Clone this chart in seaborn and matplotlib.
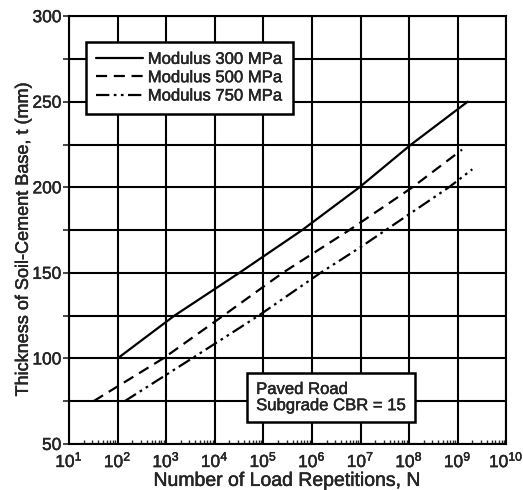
import numpy as np
import pandas as pd
import seaborn as sns
import matplotlib.pyplot as plt
import matplotlib.patheffects as pe
from matplotlib.text import Text
from matplotlib.ticker import LogLocator, NullFormatter, MultipleLocator

# values
n_300 = [1e2, 1.48e3, 3.2e4, 6.3e5, 9.5e6, 1.1e8, 1.6e9]
t_300 = [100, 125, 150, 175, 200, 225, 250]

n_500 = [32, 870, 1.5e4, 2.5e5, 5.9e6, 1.17e8, 1.23e9]
t_500 = [75, 100, 125, 150, 175, 200, 222]

n_750 = [140, 3.4e3, 8e4, 1.5e6, 1e7, 6.6e8, 2e9]
t_750 = [75, 100, 125, 150, 165, 200, 210.5]

labels = ["Modulus 300 MPa", "Modulus 500 MPa", "Modulus 750 MPa"]

df = pd.concat([
    pd.DataFrame({"N": n_300, "t": t_300, "Modulus": labels[0]}),
    pd.DataFrame({"N": n_500, "t": t_500, "Modulus": labels[1]}),
    pd.DataFrame({"N": n_750, "t": t_750, "Modulus": labels[2]}),
])

sns.set_style("white")
plt.rcParams["font.family"] = ["Liberation Sans", "DejaVu Sans"]

fig = plt.figure(figsize=(5.23, 4.9), dpi=100)
ax = fig.add_axes([0.132, 0.094, 0.836, 0.873])

dashes = {labels[0]: "", labels[1]: (5, 3), labels[2]: (6, 2, 1.2, 2, 1.2, 2)}
sns.lineplot(data=df, x="N", y="t", style="Modulus", dashes=dashes,
             color="black", linewidth=1.6, estimator=None, sort=False, ax=ax)

ax.set_xscale("log")
ax.set_xlim(10, 1e10)
ax.set_ylim(50, 300)
ax.yaxis.set_major_locator(MultipleLocator(50))
ax.yaxis.set_minor_locator(MultipleLocator(25))
ax.xaxis.set_major_locator(LogLocator(base=10, numticks=12))
ax.xaxis.set_minor_locator(LogLocator(base=10, subs=np.arange(2, 10), numticks=12))
ax.xaxis.set_minor_formatter(NullFormatter())

ax.grid(True, which="major", axis="x", color="black", linewidth=1.5)
ax.grid(True, which="both", axis="y", color="black", linewidth=1.5)
ax.tick_params(axis="x", which="minor", direction="in", length=3, width=1, bottom=True)
ax.tick_params(axis="x", which="major", direction="in", length=0, labelsize=12.5, pad=4.5)
ax.tick_params(axis="y", which="both", direction="out", length=4, width=1.2, left=True,
               labelsize=12.5, pad=1.5)
for s in ax.spines.values():
    s.set_color("black")
    s.set_linewidth(1.5)

ax.set_xlabel("Number of Load Repetitions, N", fontsize=14, labelpad=2)
ax.set_ylabel("Thickness of Soil-Cement Base, t (mm)", fontsize=13)
ax.yaxis.set_label_coords(-0.085, 0.477)

handles, lbls = ax.get_legend_handles_labels()
leg = ax.legend(handles, lbls, loc="upper left", bbox_to_anchor=(0.039, 0.940),
                borderaxespad=0, fontsize=12, frameon=True, fancybox=False,
                handlelength=2.8, borderpad=0.6, labelspacing=0.2, handletextpad=0.3)
leg.get_frame().set_edgecolor("black")
leg.get_frame().set_linewidth(1.8)
leg.get_frame().set_alpha(1)

ax.text(0.428, 0.072, "Paved Road\nSubgrade CBR = 15", transform=ax.transAxes,
        fontsize=12, va="bottom", ha="left", linespacing=1.1,
        bbox=dict(boxstyle="square,pad=0.55", facecolor="white",
                  edgecolor="black", linewidth=1.8))

# scanned text looks a little heavier than a plain regular weight
fig.canvas.draw()
for t in fig.findobj(Text):
    t.set_path_effects([pe.withStroke(linewidth=0.3, foreground="black")])

fig.savefig("out.png", dpi=100)
